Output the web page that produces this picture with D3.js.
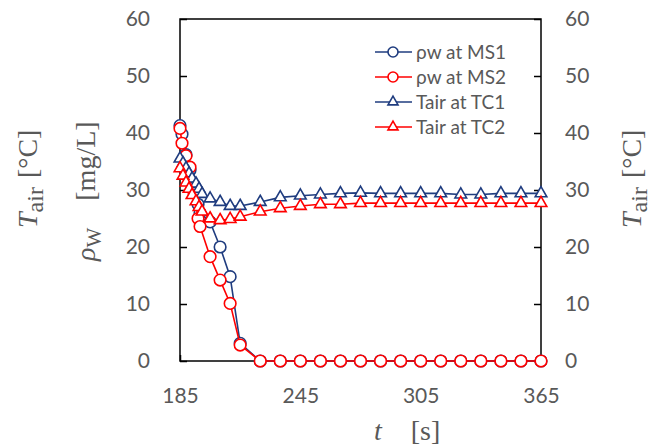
<!DOCTYPE html>
<html lang="en">
<head>
  <meta charset="UTF-8">
  <title>rho_w and T_air vs t</title>
  <style>
    body { margin: 0; background: #fff; }
    svg { display: block; }
    .tick text { font-family: Lato, "Open Sans", sans-serif; font-size: 21px; fill: #595959; }
    .title { font-family: "Liberation Serif", "DejaVu Serif", serif; font-size: 28px; fill: #595959; }
    .legend text { font-family: Lato, "Open Sans", sans-serif; font-size: 19px; fill: #595959; }
  </style>
</head>
<body>
  <svg id="chart" width="660" height="448"></svg>

  <script src="https://d3js.org/d3.v7.min.js"></script>
  <script>
    // water density samples (MS1 / MS2)
    const msTime = [185, 186, 188, 190, 192, 194, 195, 200, 205, 210, 215,
      225, 235, 245, 255, 265, 275, 285, 295, 305, 315, 325, 335, 345, 355, 365];
    const rhoMS1 = [41.3, 39.8, 36.2, 33.5, 30.5, 27.5, 26.0, 24.4, 20.0, 14.8, 3.1,
      0, 0, 0, 0, 0, 0, 0, 0, 0, 0, 0, 0, 0, 0, 0];
    const rhoMS2 = [40.8, 38.2, 36.0, 34.0, 29.5, 25.0, 23.6, 18.3, 14.2, 10.1, 2.8,
      0, 0, 0, 0, 0, 0, 0, 0, 0, 0, 0, 0, 0, 0, 0];

    // air temperature samples (TC1 / TC2)
    const tcTime = [185, 186.5, 188, 189.5, 191, 193, 194.5, 196, 200, 205, 210, 215,
      225, 235, 245, 255, 265, 275, 285, 295, 305, 315, 325, 335, 345, 355, 365];
    const tairTC1 = [35.5, 34.7, 33.8, 32.9, 32.0, 31.1, 30.2, 29.3, 28.5, 27.9, 27.2, 27.2,
      27.9, 28.7, 29.0, 29.2, 29.4, 29.5, 29.4, 29.4, 29.4, 29.4, 29.2, 29.2, 29.4, 29.4, 29.4];
    const tairTC2 = [33.8, 32.5, 31.3, 30.2, 29.1, 28.0, 27.0, 26.2, 25.0, 24.7, 24.9, 25.3,
      26.2, 26.8, 27.2, 27.5, 27.5, 27.7, 27.7, 27.7, 27.7, 27.7, 27.7, 27.7, 27.7, 27.7, 27.7];

    const xTicks = [185, 245, 305, 365];
    const yTicks = [0, 10, 20, 30, 40, 50, 60];
    const seriesNames = ["ρw at MS1", "ρw at MS2", "Tair at TC1", "Tair at TC2"];

    const blue = "#1f3c7f";
    const red = "#ff0000";

    const plotL = 180, plotR = 541, plotT = 19, plotB = 361;
    const svg = d3.select("#chart");

    const x = d3.scaleLinear().domain([185, 365]).range([plotL, plotR]);
    const y = d3.scaleLinear().domain([0, 60]).range([plotB, plotT]);

    // axes, ticks point inward
    svg.append("g")
      .attr("transform", `translate(${plotL},0)`)
      .call(d3.axisLeft(y).tickValues(yTicks).tickSizeInner(-7).tickSizeOuter(0).tickPadding(30))
      .call(g => g.select(".domain").remove());

    svg.append("g")
      .attr("transform", `translate(${plotR},0)`)
      .call(d3.axisRight(y).tickValues(yTicks).tickSizeInner(-7).tickSizeOuter(0).tickPadding(24))
      .call(g => g.select(".domain").remove());

    svg.append("g")
      .attr("transform", `translate(0,${plotB})`)
      .call(d3.axisBottom(x).tickValues(xTicks).tickSizeInner(-6).tickSizeOuter(0).tickPadding(27))
      .call(g => g.select(".domain").remove());

    svg.selectAll(".tick line").attr("stroke", "#000").attr("stroke-width", 1.5);

    // frame
    svg.append("rect")
      .attr("x", plotL).attr("y", plotT)
      .attr("width", plotR - plotL).attr("height", plotB - plotT)
      .attr("fill", "none").attr("stroke", "#000").attr("stroke-width", 1.5);

    const series = [
      { name: seriesNames[0], t: msTime, v: rhoMS1, color: blue, shape: "circle" },
      { name: seriesNames[1], t: msTime, v: rhoMS2, color: red, shape: "circle" },
      { name: seriesNames[2], t: tcTime, v: tairTC1, color: blue, shape: "triangle" },
      { name: seriesNames[3], t: tcTime, v: tairTC2, color: red, shape: "triangle" }
    ];

    const line = d3.line().x(d => x(d[0])).y(d => y(d[1]));

    function marker(sel, s, r) {
      if (s.shape === "circle") {
        sel.append("circle").attr("r", r);
      } else {
        sel.append("path").attr("d", d3.symbol().type(d3.symbolTriangle).size(r * r * 1.75)());
      }
    }

    series.forEach(s => {
      const pts = s.t.map((t, i) => [t, s.v[i]]);
      const g = svg.append("g");
      g.append("path")
        .attr("d", line(pts))
        .attr("fill", "none")
        .attr("stroke", s.color)
        .attr("stroke-width", 1.6);
      g.selectAll("g.pt")
        .data(pts)
        .join("g")
        .attr("class", "pt")
        .attr("transform", d => `translate(${x(d[0])},${y(d[1])})`)
        .each(function () { marker(d3.select(this), s, 5.8); })
        .attr("fill", "#fff")
        .attr("stroke", s.color)
        .attr("stroke-width", 1.6);
    });

    // legend
    const legend = svg.append("g").attr("class", "legend");
    series.forEach((s, i) => {
      const ly = 52 + i * 25;
      const row = legend.append("g").attr("transform", `translate(0,${ly})`);
      row.append("line")
        .attr("x1", 375).attr("x2", 412)
        .attr("stroke", s.color).attr("stroke-width", 1.6);
      const m = row.append("g")
        .attr("transform", "translate(393,0)")
        .attr("fill", "#fff").attr("stroke", s.color).attr("stroke-width", 1.6);
      marker(m, s, 5);
      row.append("text")
        .attr("x", 416).attr("y", 0).attr("dy", "0.35em")
        .text(s.name);
    });

    // axis titles
    function tairTitle(xb) {
      const t = svg.append("text").attr("class", "title")
        .attr("transform", `translate(${xb},228) rotate(-90)`);
      t.append("tspan").attr("font-style", "italic").text("T");
      t.append("tspan").attr("dy", 6).attr("font-size", 24).text("air");
      t.append("tspan").attr("dy", -6).attr("dx", 9).text("[°C]");
    }
    tairTitle(37);
    tairTitle(641);

    const rho = svg.append("text").attr("class", "title")
      .attr("transform", "translate(95,261) rotate(-90)");
    rho.append("tspan").attr("font-style", "italic").text("ρ");
    rho.append("tspan").attr("dy", 6).attr("font-size", 21).text("W");
    rho.append("tspan").attr("dy", -6).attr("dx", 27).text("[mg/L]");

    const tt = svg.append("text").attr("class", "title")
      .attr("x", 374).attr("y", 440);
    tt.append("tspan").attr("font-style", "italic").text("t");
    tt.append("tspan").attr("dx", 29).text("[s]");
  </script>
</body>
</html>
